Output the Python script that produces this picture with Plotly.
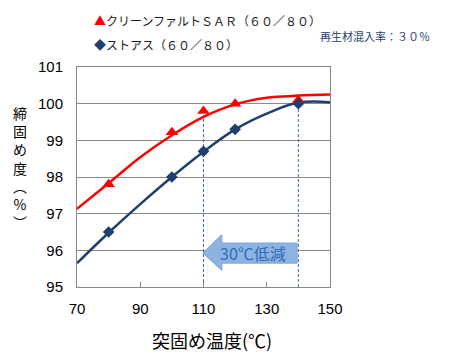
import plotly.graph_objects as go

# ---- data ----
pts_x = [80, 100, 110, 120, 140]
sar_pts = [97.8, 99.22, 99.8, 100.0, 100.1]
straight_pts = [96.5, 98.0, 98.7, 99.3, 100.0]

curve_x = [70, 80, 90, 100, 110, 120, 130, 140, 150]
sar_curve = [97.13, 97.83, 98.54, 99.14, 99.64, 99.98, 100.16, 100.22, 100.25]
straight_curve = [95.65, 96.48, 97.26, 98.0, 98.69, 99.3, 99.73, 100.03, 100.04]

drop_x = [110, 140]
drop_y = [99.68, 100.0]

x_ticks = [70, 90, 110, 130, 150]
y_ticks = [95, 96, 97, 98, 99, 100, 101]

sar_name = "クリーンファルトＳＡＲ（６０／８０）"
straight_name = "ストアス（６０／８０）"
note_text = "再生材混入率：３０％"
arrow_text = "30℃低減"
x_title = "突固め温度(℃)"
y_title_chars = ["締", "固", "め", "度", "︵", "%", "︶"]

RED = "#FF0000"
NAVY = "#1F3F6E"
JP = "Noto Sans CJK JP, sans-serif"
NUM = "Liberation Sans, Arial, sans-serif"

# plot area in pixels
L, R, T, B = 77, 330, 67, 287
W, H = 450, 355

def px(xp):
    return (xp - L) / (R - L)

def py(yp):
    return (B - yp) / (B - T)

fig = go.Figure()

# dashed drop lines
for xv, yv in zip(drop_x, drop_y):
    fig.add_trace(go.Scatter(x=[xv, xv], y=[95, yv], mode="lines",
                             line=dict(color="#3A6FB5", width=1, dash="3px,2px"),
                             showlegend=False, hoverinfo="skip"))

fig.add_trace(go.Scatter(x=curve_x, y=sar_curve, mode="lines",
                         line=dict(color=RED, width=2.5, shape="spline", smoothing=1.0),
                         showlegend=False))
fig.add_trace(go.Scatter(x=curve_x, y=straight_curve, mode="lines",
                         line=dict(color=NAVY, width=2.5, shape="spline", smoothing=1.0),
                         showlegend=False))
fig.add_trace(go.Scatter(x=pts_x, y=sar_pts, mode="markers", name=sar_name,
                         marker=dict(symbol="triangle-up", size=11, color=RED),
                         showlegend=False))
fig.add_trace(go.Scatter(x=pts_x, y=straight_pts, mode="markers", name=straight_name,
                         marker=dict(symbol="diamond", size=9, color=NAVY),
                         showlegend=False))

# arrow (block arrow pointing left)
tip_x, head_x, end_x = 109.8, 115.8, 139.6
body_lo, body_hi, head_lo, head_hi = 95.65, 96.2, 95.45, 96.43
mid_y = (body_lo + body_hi) / 2
path = (f"M {tip_x},{mid_y} L {head_x},{head_hi} L {head_x},{body_hi} "
        f"L {end_x},{body_hi} L {end_x},{body_lo} L {head_x},{body_lo} "
        f"L {head_x},{head_lo} Z")
fig.add_shape(type="path", path=path, xref="x", yref="y",
              fillcolor="#8DB3E2", line=dict(color="#7FA6D6", width=1), layer="above")
fig.add_annotation(x=(head_x + end_x) / 2 - 2.2, y=mid_y, xref="x", yref="y",
                   xanchor="center", yanchor="middle",
                   text=arrow_text, showarrow=False,
                   font=dict(family=JP, size=16, color="#2E6BB8"))

# legend-like annotations
fig.add_annotation(x=px(92), y=py(20), xref="paper", yref="paper",
                   xanchor="left", yanchor="middle",
                   text=f"<span style='color:{RED}'>▲</span>{sar_name}", showarrow=False,
                   font=dict(family=JP, size=12, color="#1a1a1a"))
fig.add_annotation(x=px(92), y=py(45), xref="paper", yref="paper",
                   xanchor="left", yanchor="middle",
                   text=f"<span style='color:{NAVY}'>◆</span>{straight_name}", showarrow=False,
                   font=dict(family=JP, size=12, color="#1a1a1a"))
fig.add_annotation(x=px(318), y=py(36), xref="paper", yref="paper",
                   xanchor="left", yanchor="middle",
                   text=note_text, showarrow=False,
                   font=dict(family=JP, size=11, color="#1F3F6E"))

# axis titles
fig.add_annotation(x=px(212), y=py(340), xref="paper", yref="paper",
                   xanchor="center", yanchor="middle",
                   text=x_title, showarrow=False,
                   font=dict(family=JP, size=18, color="#000"))
fig.add_annotation(x=px(20), y=py(167), xref="paper", yref="paper",
                   xanchor="center", yanchor="middle",
                   text="<br>".join(y_title_chars), showarrow=False,
                   font=dict(family=JP, size=14, color="#000"))

fig.update_layout(
    width=W, height=H,
    margin=dict(l=L, r=W - R, t=T, b=H - B, pad=0),
    paper_bgcolor="white", plot_bgcolor="white",
    showlegend=False,
    xaxis=dict(range=[70, 150], tickvals=x_ticks, ticks="inside", ticklen=5,
               tickcolor="#888", showgrid=False, zeroline=False,
               showline=True, mirror=True, linecolor="#888", linewidth=1,
               tickfont=dict(family=NUM, size=15, color="#000"),
               ticklabelstandoff=8),
    yaxis=dict(range=[95, 101], tickvals=y_ticks, ticks="", showgrid=True,
               gridcolor="#8a8a8a", gridwidth=1, zeroline=False,
               showline=True, mirror=True, linecolor="#888", linewidth=1,
               tickfont=dict(family=NUM, size=15, color="#000"),
               ticklabelstandoff=10),
)

fig.write_html("out.html", config={"displayModeBar": False},
               post_script="document.body.style.margin='0px';document.body.style.overflow='hidden';")
